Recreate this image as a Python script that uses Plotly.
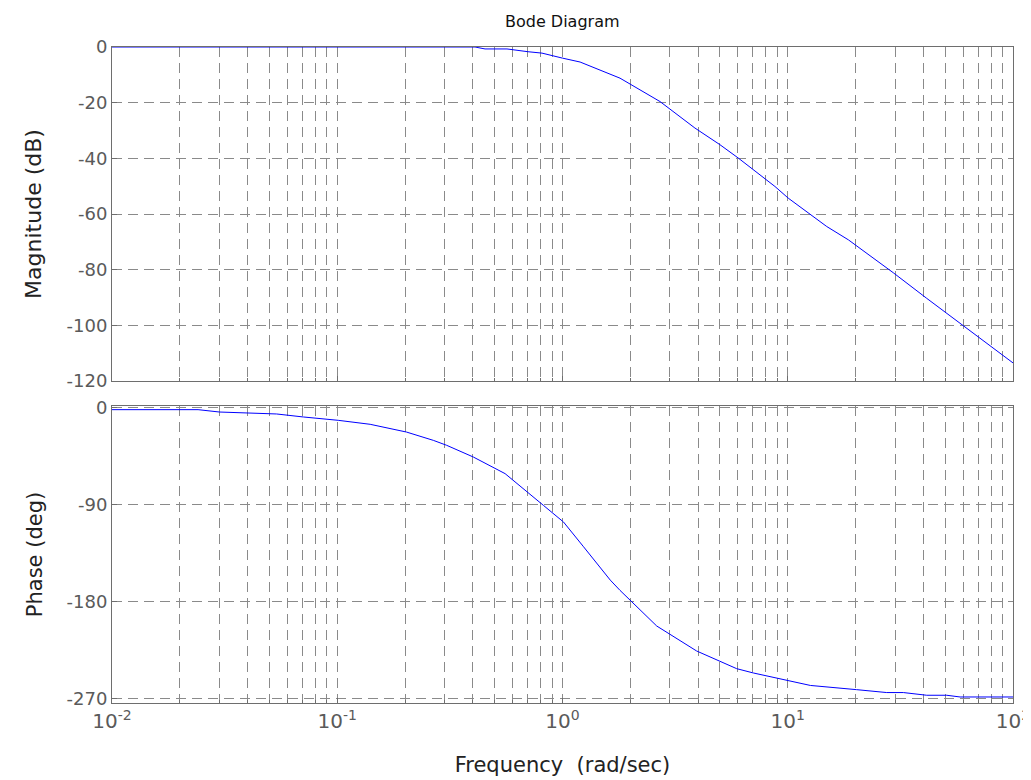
import plotly.graph_objects as go

# ---- data ----
mag_freq = [0.01, 0.409, 0.453, 0.567, 0.703, 0.811, 1.0, 1.197, 1.80, 2.21, 2.71,
            3.87, 5.0, 6.03, 8.06, 8.77, 10.05, 14.9, 18.6, 29.4, 41.4, 50.8, 100]
mag_db = [0, 0, -0.7, -0.7, -1.7, -2.2, -4.0, -5.4, -11.2, -15.4, -19.6,
          -29.1, -35.1, -39.9, -47.7, -50.1, -54.3, -64.5, -69.3, -81.1, -90.3, -95.7, -113.5]

phase_freq = [0.01, 0.0241, 0.030, 0.037, 0.0438, 0.0538, 0.0707, 0.101, 0.140, 0.203,
              0.267, 0.306, 0.402, 0.556, 0.822, 1.01, 1.24, 1.63, 1.80, 2.0, 2.62, 3.94,
              5.93, 7.03, 8.93, 10.05, 12.6, 20.2, 27.5, 32.6, 41.4, 50.8, 58.2, 100]
phase_deg = [-1.7, -1.7, -3.9, -4.5, -5.4, -5.7, -8.5, -11.6, -15.3, -22.5,
             -30.2, -34.8, -45.7, -61.1, -90.5, -106, -129, -160, -169.5, -178.7, -202.6, -225.8,
             -242.2, -246.2, -250.9, -253.7, -257.8, -261.7, -264.4, -264.4, -266.9, -266.9, -268.5, -268.5]

mag_ticks = [0, -20, -40, -60, -80, -100, -120]
phase_ticks = [0, -90, -180, -270]
decades = [-2, -1, 0, 1, 2]
freq_ticks = [10.0 ** d for d in decades]
freq_text = ["10<sup>%d</sup>" % d for d in decades]
freq_minor = [m * 10.0 ** d for d in decades[:-1] for m in range(2, 10)]

# page body has an 8px margin, so the figure is drawn at (8, 8)
W, H = 1023, 772
x0, x1 = 104, 1005
top_y0, top_y1 = 39, 373
bot_y0, bot_y1 = 398, 695

font_fam = "DejaVu Sans, Liberation Sans, Arial, sans-serif"
tick_col = "#5a5a5a"
grid_col = "#8a8a8a"
axis_col = "#6e6e6e"
dash = "10px,6px"

fig = go.Figure()
fig.add_trace(go.Scatter(x=mag_freq, y=mag_db, mode="lines",
                         line=dict(color="#0000ff", width=1), xaxis="x", yaxis="y",
                         showlegend=False))
fig.add_trace(go.Scatter(x=phase_freq, y=phase_deg, mode="lines",
                         line=dict(color="#0000ff", width=1), xaxis="x2", yaxis="y2",
                         showlegend=False))

minor_x = dict(tickmode="array", tickvals=freq_minor, showgrid=True, gridcolor=grid_col,
               griddash=dash, gridwidth=1, ticks="inside", ticklen=3, tickcolor=axis_col)
common_x = dict(type="log", range=[-2, 2], tickmode="array", tickvals=freq_ticks,
                showgrid=True, gridcolor=grid_col, griddash=dash, gridwidth=1,
                showline=True, linecolor=axis_col, linewidth=1, mirror=True,
                ticks="inside", ticklen=5, tickcolor=axis_col, zeroline=False,
                automargin=False, minor=minor_x, ticklabeloverflow="allow",
                domain=[x0 / W, x1 / W])
common_y = dict(showgrid=True, gridcolor=grid_col, griddash=dash, gridwidth=1,
                showline=True, linecolor=axis_col, linewidth=1, mirror=True,
                ticks="inside", ticklen=5, tickcolor=axis_col, zeroline=False,
                automargin=False, tickmode="array",
                tickfont=dict(family=font_fam, size=18, color=tick_col))

fig.update_layout(
    width=W, height=H,
    margin=dict(l=0, r=0, t=0, b=0, autoexpand=False),
    paper_bgcolor="white", plot_bgcolor="white",
    font=dict(family=font_fam),
    xaxis=dict(common_x, anchor="y", showticklabels=False),
    yaxis=dict(common_y, anchor="x", domain=[(H - top_y1) / H, (H - top_y0) / H],
               range=[-120, 0], tickvals=mag_ticks, ticktext=[str(v) for v in mag_ticks],
               title=dict(text="Magnitude (dB)", font=dict(family=font_fam, size=22, color="#222222"),
                          standoff=18)),
    xaxis2=dict(common_x, anchor="y2", ticktext=freq_text,
                tickfont=dict(family=font_fam, size=20, color=tick_col),
                title=dict(text="Frequency  (rad/sec)", font=dict(family=font_fam, size=21, color="#222222"),
                           standoff=25)),
    yaxis2=dict(common_y, anchor="x2", domain=[(H - bot_y1) / H, (H - bot_y0) / H],
                range=[-274.1, 1.7], tickvals=phase_ticks, ticktext=[str(v) for v in phase_ticks],
                title=dict(text="Phase (deg)", font=dict(family=font_fam, size=21, color="#222222"),
                           standoff=18)),
    annotations=[dict(text="Bode Diagram", x=(x0 + x1) / 2 / W, y=(H - 14) / H,
                      xref="paper", yref="paper", xanchor="center", yanchor="middle",
                      showarrow=False,
                      font=dict(family=font_fam, size=16, color="#111111"))],
)

fig.write_html("out.html")
